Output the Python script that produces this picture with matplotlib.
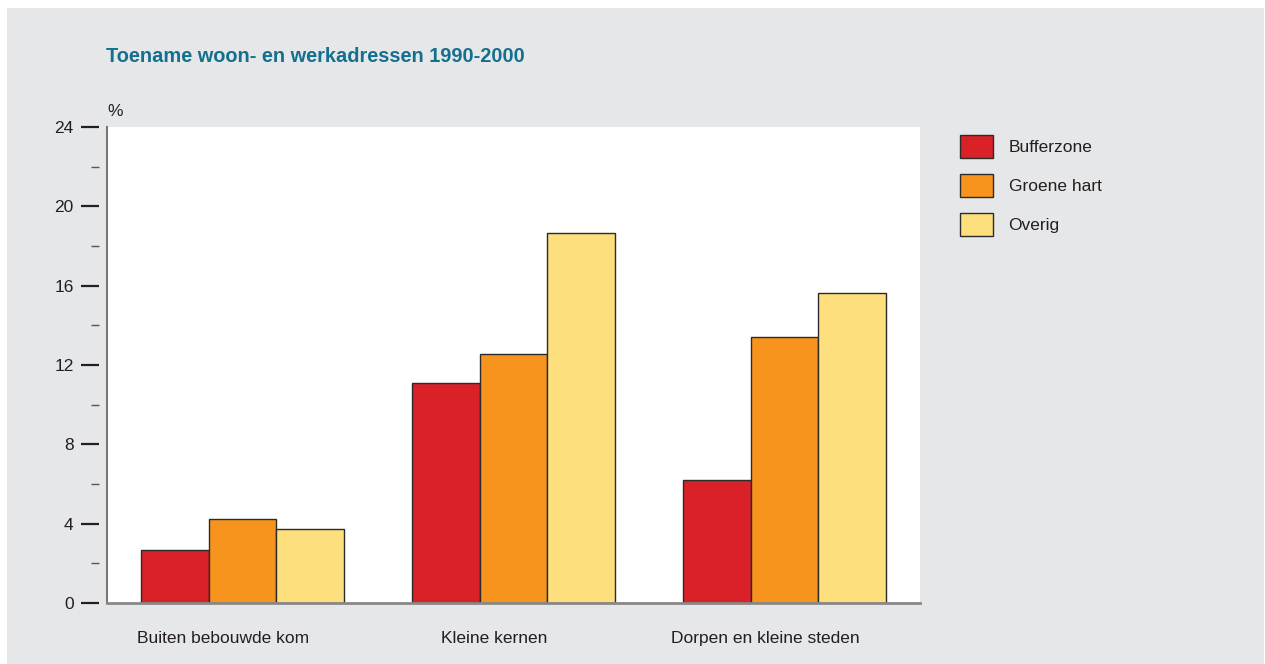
import matplotlib
matplotlib.use('Agg')
import matplotlib.pyplot as plt
import numpy as np
from matplotlib.patches import Rectangle

plt.rcParams['font.family'] = ['Liberation Sans', 'DejaVu Sans']

categories = ["Buiten bebouwde kom", "Kleine kernen", "Dorpen en kleine steden"]
series_names = ["Bufferzone", "Groene hart", "Overig"]
bufferzone = [2.65, 11.1, 6.2]
groene_hart = [4.22, 12.55, 13.4]
overig = [3.72, 18.65, 15.63]
colors = ["#da2128", "#f7941d", "#fddf7e"]

W, H = 1265, 664
fig = plt.figure(figsize=(W / 100, H / 100), dpi=100, facecolor="white")
# grey panel behind everything
fig.patches.append(Rectangle((7 / W, 0), (W - 8) / W, (H - 8) / H,
                             transform=fig.transFigure, facecolor="#e6e7e8",
                             edgecolor="none", zorder=-10))

ax = fig.add_axes([107 / W, 1 - 603 / H, (920 - 107) / W, (603 - 127) / H])
ax.set_facecolor("white")

x = np.arange(len(categories))
width = 0.25
for i, (vals, name) in enumerate(zip([bufferzone, groene_hart, overig], series_names)):
    ax.bar(x + (i - 1) * width, vals, width, color=colors[i], edgecolor="#2b2b2b",
           linewidth=1.0, label=name, zorder=2)

ax.set_xlim(-0.5, 2.5)
ax.set_ylim(0, 24)

# y axis: ticks detached from the axis line
ax.set_yticks(np.arange(0, 25, 4))
ax.set_yticks(np.arange(2, 24, 4), minor=True)
ax.spines['left'].set_position(('outward', 6))
ax.spines['left'].set_visible(False)
ax.tick_params(axis='y', which='major', length=13, width=1.6, color="#231f20",
               labelsize=12.5, labelcolor="#231f20", pad=5)
ax.tick_params(axis='y', which='minor', length=6, width=1.0, color="#555555")
ax.plot([0, 0], [0, 1], transform=ax.transAxes, color="#777777", lw=1.5,
        clip_on=False, zorder=3)

for s in ['top', 'right']:
    ax.spines[s].set_visible(False)
ax.spines['bottom'].set_color("#888888")
ax.spines['bottom'].set_linewidth(2)
ax.spines['bottom'].set_zorder(3)

# category labels sit a little left of the group centres
ax.set_xticks(x - 0.07)
ax.set_xticklabels(categories, fontsize=12.5, color="#231f20")
ax.tick_params(axis='x', length=0, pad=20)

ax.text(0.0, 1.032, "%", transform=ax.transAxes, fontsize=12.5, color="#231f20",
        ha='left', va='center')

fig.text(106 / W, 1 - 57 / H, "Toename woon- en werkadressen 1990-2000",
         fontsize=14.4, fontweight='bold', color="#14708e", ha='left', va='center')

ax.legend(loc='upper left', bbox_to_anchor=(960 / W, 1 - 135 / H),
          bbox_transform=fig.transFigure, frameon=False, fontsize=12.5,
          handlelength=1.9, handleheight=1.66, labelspacing=0.92,
          handletextpad=0.9, borderpad=0, borderaxespad=0,
          labelcolor="#231f20")

fig.savefig("out.png", dpi=100, facecolor=fig.get_facecolor())
